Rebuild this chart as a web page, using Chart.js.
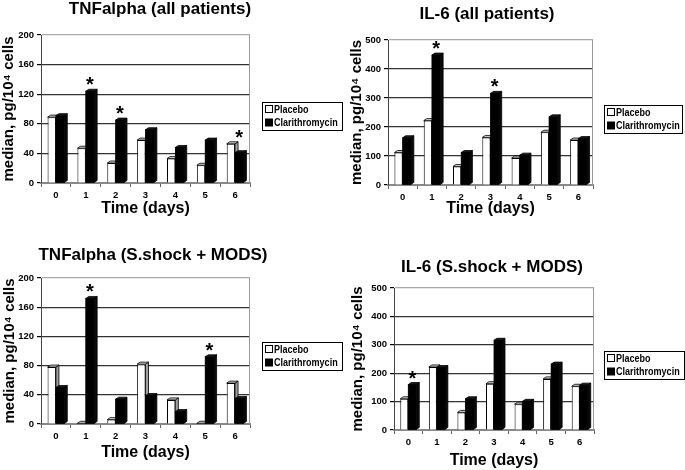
<!DOCTYPE html>
<html><head><meta charset="utf-8">
<script src="https://cdn.jsdelivr.net/npm/chart.js@4/dist/chart.umd.min.js"></script>
<style>
html,body{margin:0;padding:0;background:#fff;}
#wrap{position:relative;width:685px;height:470px;overflow:hidden;background:#fff;}
.p{position:absolute;}
canvas{display:block;}
</style></head><body>
<div id="wrap">
<div class="p" style="left:0;top:0;"><canvas id="c1" width="345" height="235"></canvas></div>
<div class="p" style="left:345px;top:0;"><canvas id="c2" width="340" height="235"></canvas></div>
<div class="p" style="left:0;top:235px;"><canvas id="c3" width="345" height="235"></canvas></div>
<div class="p" style="left:345px;top:235px;"><canvas id="c4" width="340" height="235"></canvas></div>
</div>
<script>
// ---- data ----
const days = ['0', '1', '2', '3', '4', '5', '6'];
const seriesNames = ['Placebo', 'Clarithromycin'];
const yTitle = 'median, pg/10\u2074 cells';
const xTitle = 'Time (days)';

const tnfAllPlacebo = [89, 47, 27, 58, 33, 24, 53];
const tnfAllClari   = [91, 124, 85, 72, 48, 58, 41];
const tnfAllStars   = [1, 2, 6];

const il6AllPlacebo = [112, 222, 64, 164, 93, 182, 155];
const il6AllClari   = [163, 448, 112, 316, 103, 235, 160];
const il6AllStars   = [1, 3];

const tnfShockPlacebo = [78, 1, 6, 82, 33, 1, 56];
const tnfShockClari   = [50, 172, 34, 39, 17, 92, 35];
const tnfShockStars   = [1, 5];

const il6ShockPlacebo = [110, 222, 62, 163, 91, 180, 154];
const il6ShockClari   = [160, 220, 110, 316, 101, 232, 158];
const il6ShockStars   = [0];

const tnfTicks = {max: 200, step: 40};
const il6Ticks = {max: 500, step: 100};

// ---- styling ----
const SANS = "'Liberation Sans', Arial, Helvetica, sans-serif";
const DX = 3, DY = 2;

const deco = {
  id: 'deco',
  afterDatasetsDraw(chart, args, o) {
    const ctx = chart.ctx;
    const m0 = chart.getDatasetMeta(0), m1 = chart.getDatasetMeta(1);
    function faces(el, front, top, side, redraw) {
      const p = el.getProps(['x', 'y', 'base', 'width'], true);
      const l = p.x - p.width / 2, r = p.x + p.width / 2, y = p.y, b = p.base;
      ctx.save();
      ctx.lineWidth = 0.8; ctx.strokeStyle = '#000';
      if (redraw) {
        ctx.fillStyle = front; ctx.fillRect(l, y, p.width, b - y);
        ctx.strokeRect(l, y, p.width, b - y);
      }
      ctx.beginPath(); ctx.moveTo(r, y); ctx.lineTo(r + DX, y - DY); ctx.lineTo(r + DX, b - DY); ctx.lineTo(r, b); ctx.closePath();
      ctx.fillStyle = side; ctx.fill(); ctx.stroke();
      ctx.beginPath(); ctx.moveTo(l, y); ctx.lineTo(l + DX, y - DY); ctx.lineTo(r + DX, y - DY); ctx.lineTo(r, y); ctx.closePath();
      ctx.fillStyle = top; ctx.fill(); ctx.stroke();
      ctx.restore();
    }
    m0.data.forEach(el => faces(el, '#fff', '#d0d0d0', '#a0a0a0', false));
    m1.data.forEach(el => faces(el, '#000', '#1a1a1a', '#0a0a0a', true));
    // asterisks
    ctx.save();
    ctx.fillStyle = '#000';
    ctx.font = 'bold 20px ' + SANS;
    ctx.textAlign = 'center';
    ctx.textBaseline = 'alphabetic';
    (o.stars || []).forEach(i => {
      const top = Math.min(m0.data[i].y, m1.data[i].y) - DY;
      ctx.fillText('*', m1.data[i].x, top + 2);
    });
    ctx.restore();
  },
  afterDraw(chart, args, o) {
    const ctx = chart.ctx;
    const a = chart.chartArea;
    ctx.save();
    // right wall edge
    ctx.strokeStyle = '#999'; ctx.lineWidth = 1;
    ctx.beginPath(); ctx.moveTo(a.right - 0.5, a.top); ctx.lineTo(a.right - 0.5, a.bottom); ctx.stroke();
    // title
    ctx.fillStyle = '#000';
    ctx.font = 'bold 17px ' + SANS;
    ctx.textAlign = 'center'; ctx.textBaseline = 'alphabetic';
    ctx.fillText(o.title, o.tx, o.ty);
    // legend
    const L = o.legend;
    ctx.strokeStyle = '#000'; ctx.lineWidth = 1;
    ctx.strokeRect(L.x + 0.5, L.y + 0.5, L.w, L.h);
    chart.data.datasets.forEach((ds, k) => {
      const cy = L.y + 7.5 + k * 13.5;
      ctx.fillStyle = ds.backgroundColor;
      ctx.fillRect(L.x + 3.5, cy - 4, 7, 7);
      ctx.strokeStyle = '#000';
      ctx.strokeRect(L.x + 3.5, cy - 4, 7, 7);
      ctx.save();
      ctx.translate(L.x + 12, cy);
      ctx.scale(0.82, 1);
      ctx.fillStyle = '#000';
      ctx.font = 'bold 11px ' + SANS;
      ctx.textAlign = 'left'; ctx.textBaseline = 'middle';
      ctx.fillText(ds.label, 0, 0);
      ctx.restore();
    });
    ctx.restore();
  }
};

function makeChart(id, cfg) {
  const tickFont = {family: SANS, size: 9.5, weight: 'bold'};
  return new Chart(document.getElementById(id), {
    type: 'bar',
    data: {
      labels: days,
      datasets: [
        {label: seriesNames[0], data: cfg.placebo, backgroundColor: '#fff', borderColor: '#000', borderWidth: 1},
        {label: seriesNames[1], data: cfg.clari, backgroundColor: '#000', borderColor: '#000', borderWidth: 1}
      ]
    },
    options: {
      responsive: false,
      animation: false,
      devicePixelRatio: 1,
      categoryPercentage: 0.56,
      barPercentage: 1.0,
      layout: {padding: cfg.pad},
      plugins: {
        legend: {display: false},
        title: {display: false},
        tooltip: {enabled: false},
        deco: {title: cfg.title, tx: cfg.tx, ty: cfg.ty, legend: cfg.legend, stars: cfg.stars}
      },
      scales: {
        x: {
          ticks: {font: tickFont, color: '#000', padding: 3},
          grid: {drawOnChartArea: false, offset: true, tickLength: 4, color: '#666'},
          border: {color: '#888', width: 2},
          title: {display: true, text: xTitle, color: '#000', padding: 0, font: {family: SANS, size: 16, weight: 'bold'}},
          afterFit(s) { s.height = cfg.xH; }
        },
        y: {
          min: 0, max: cfg.ticks.max,
          ticks: {stepSize: cfg.ticks.step, font: tickFont, color: '#000', padding: 3},
          grid: {
            color: c => (c.tick && c.tick.value === 0) ? 'rgba(0,0,0,0)' : (c.tick && c.tick.value === cfg.ticks.max ? '#aaa' : '#333'),
            tickColor: '#000', tickLength: 4, lineWidth: 1.2
          },
          border: {color: '#444', width: 1},
          title: {display: true, text: yTitle, color: '#000', padding: 0, font: {family: SANS, size: 15, weight: 'bold'}},
          afterFit(s) { s.width = cfg.yW; }
        }
      }
    },
    plugins: [deco]
  });
}

makeChart('c1', {placebo: tnfAllPlacebo, clari: tnfAllClari, stars: tnfAllStars, ticks: tnfTicks,
  title: 'TNFalpha (all patients)', tx: 160, ty: 14,
  pad: {left: 0, top: 35, right: 95, bottom: 17}, yW: 41, xH: 35,
  legend: {x: 262, y: 102, w: 80, h: 28}});
makeChart('c2', {placebo: il6AllPlacebo, clari: il6AllClari, stars: il6AllStars, ticks: il6Ticks,
  title: 'IL-6 (all patients)', tx: 142, ty: 19,
  pad: {left: 3, top: 40, right: 92, bottom: 17}, yW: 40, xH: 33,
  legend: {x: 259, y: 105, w: 78, h: 28}});
makeChart('c3', {placebo: tnfShockPlacebo, clari: tnfShockClari, stars: tnfShockStars, ticks: tnfTicks,
  title: 'TNFalpha (S.shock + MODS)', tx: 153, ty: 25,
  pad: {left: 1, top: 43, right: 95, bottom: 8}, yW: 40, xH: 38,
  legend: {x: 262, y: 107, w: 80, h: 28}});
makeChart('c4', {placebo: il6ShockPlacebo, clari: il6ShockClari, stars: il6ShockStars, ticks: il6Ticks,
  title: 'IL-6 (S.shock + MODS)', tx: 147, ty: 37,
  pad: {left: 4, top: 53, right: 91, bottom: 0}, yW: 45, xH: 40,
  legend: {x: 259, y: 116, w: 80, h: 28}});
</script>
</body></html>
